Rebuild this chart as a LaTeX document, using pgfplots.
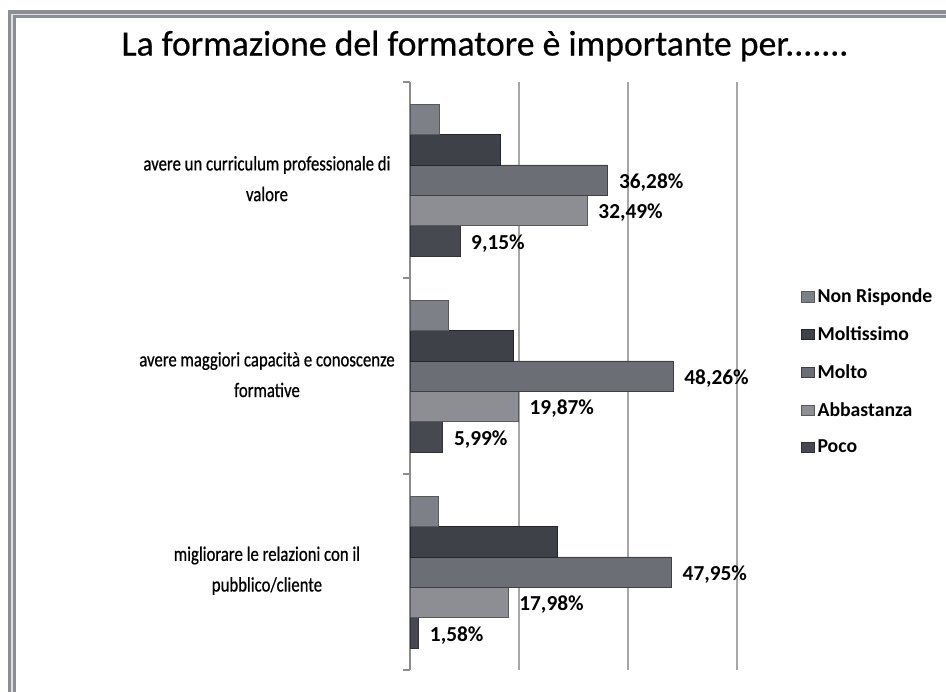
\documentclass[border=0pt]{standalone}
\usepackage{pgfplots}
\pgfplotsset{compat=1.18}
\usepackage{fontspec}
\setmainfont{Carlito}
\newfontfamily\condfont[FakeStretch=0.81,FakeBold=0.6]{Carlito}
\newfontfamily\titlefont[FakeBold=0.5]{Carlito}
\definecolor{cNR}{HTML}{7E8087}
\definecolor{cMS}{HTML}{3E4148}
\definecolor{cMO}{HTML}{6C6E75}
\definecolor{cAB}{HTML}{8C8E94}
\definecolor{cPO}{HTML}{464950}
\definecolor{frame}{HTML}{8A8E96}
\begin{document}
\begin{tikzpicture}[x=0.75pt,y=0.75pt]
\useasboundingbox (0,0) rectangle (946,692);
\fill[white] (0,0) rectangle (946,692);
\draw[frame, line width=6pt] (12,-5) -- (12,677.5) -- (951,677.5);
\draw[gray!25, line width=1.2pt] (12,-5) -- (12,677.5) -- (951,677.5);
\node[font=\titlefont\fontsize{26.8}{30}\selectfont] at (485,646) {La formazione del formatore è importante per.......};
\begin{axis}[
  at={(307.5pt,16.5pt)}, anchor=south west,
  scale only axis, width=245.25pt, height=441pt,
  xbar=0pt, bar width=22.8pt,
  xmin=0, xmax=60, ymin=-0.5, ymax=2.5, y dir=reverse,
  xtick={20,40,60}, xticklabels={}, xmajorgrids,
  grid style={color=black!35, line width=1pt},
  major x tick style={draw=none},
  ytick={0,1,2},
  yticklabels={{avere un curriculum professionale di\\valore},{avere maggiori capacità e conoscenze\\formative},{migliorare le relazioni con il\\pubblico/cliente}},
  yticklabel style={font=\condfont\fontsize{15.5}{23}\selectfont, align=center, anchor=center, xshift=-103pt, yshift=1pt},
  major y tick style={draw=none},
  minor ytick={-0.5,0.5,1.5,2.5}, minor tick length=5pt, tick align=outside,
  minor y tick style={color=black!45, line width=1pt},
  axis y line*=left, axis x line*=bottom,
  x axis line style={draw=none},
  y axis line style={color=black!45, line width=1pt},
  /pgf/number format/assume math mode=true,
  nodes near coords style={font=\fontsize{16}{18}\bfseries\selectfont, anchor=west, xshift=5pt, yshift=-2pt, text=black},
  legend style={at={(1.195,0.507)}, anchor=west, draw=none, fill=none,
    font=\fontsize{14.8}{17}\bfseries\selectfont, row sep=12.5pt, inner sep=0pt,
    nodes={inner xsep=2.5pt}},
  legend cell align=left, reverse legend,
  legend image code/.code={\draw[#1, line width=0.4pt] (0pt,-3.8pt) rectangle (9.5pt,3.8pt);},
  point meta=x,
]
\addplot[fill=cPO, draw=black!80, nodes near coords={\pgfmathprintnumber[fixed,zerofill,precision=2,use comma]{\pgfplotspointmeta}\%}] coordinates {(9.15,0) (5.99,1) (1.58,2)};
\addplot[fill=cAB, draw=black!65, nodes near coords={\pgfmathprintnumber[fixed,zerofill,precision=2,use comma]{\pgfplotspointmeta}\%}] coordinates {(32.49,0) (19.87,1) (17.98,2)};
\addplot[fill=cMO, draw=black!75, nodes near coords={\pgfmathprintnumber[fixed,zerofill,precision=2,use comma]{\pgfplotspointmeta}\%}] coordinates {(36.28,0) (48.26,1) (47.95,2)};
\addplot[fill=cMS, draw=black!85] coordinates {(16.6,0) (18.9,1) (27.1,2)};
\addplot[fill=cNR, draw=black!65] coordinates {(5.3,0) (7.0,1) (5.2,2)};
\legend{Poco, Abbastanza, Molto, Moltissimo, Non Risponde}
\end{axis}
\end{tikzpicture}
\end{document}
